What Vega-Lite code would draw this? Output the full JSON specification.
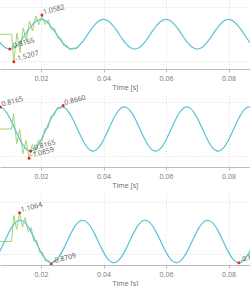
{
  "$schema": "https://vega.github.io/schema/vega-lite/v6.json",
  "padding": 0,
  "spacing": 3,
  "config": {
    "font": "Open Sans",
    "view": {"stroke": null},
    "axis": {"gridDash": [1, 2], "gridColor": "#dcdcdc", "gridWidth": 1},
    "axisX": {"domainColor": "#bbbbbb", "tickColor": "#bbbbbb", "tickSize": 3, "labelFontSize": 7, "labelColor": "#777777", "labelPadding": 2, "titleFontSize": 7, "titleFontWeight": "normal", "titleColor": "#666666", "titlePadding": 2}
  },
  "datasets": {
    "blue": [
      {"t": 0.006, "a": -0.2523, "b": 0.7986, "c": -0.5463},
      {"t": 0.007, "a": -0.4799, "b": 0.8120, "c": -0.3321},
      {"t": 0.008, "a": -0.6606, "b": 0.7459, "c": -0.0853},
      {"t": 0.009, "a": -0.7765, "b": 0.6068, "c": 0.1698},
      {"t": 0.010, "a": -0.8165, "b": 0.4083, "c": 0.4083},
      {"t": 0.011, "a": -0.7765, "b": 0.1698, "c": 0.6068},
      {"t": 0.012, "a": -0.6606, "b": -0.0853, "c": 0.7459},
      {"t": 0.013, "a": -0.4799, "b": -0.3321, "c": 0.8120},
      {"t": 0.014, "a": -0.2523, "b": -0.5463, "c": 0.7986},
      {"t": 0.015, "a": 0, "b": -0.7071, "c": 0.7071},
      {"t": 0.016, "a": 0.2523, "b": -0.7986, "c": 0.5463},
      {"t": 0.017, "a": 0.4799, "b": -0.8120, "c": 0.3321},
      {"t": 0.018, "a": 0.6606, "b": -0.7459, "c": 0.0853},
      {"t": 0.019, "a": 0.7765, "b": -0.6068, "c": -0.1698},
      {"t": 0.020, "a": 0.8165, "b": -0.4083, "c": -0.4083},
      {"t": 0.021, "a": 0.7765, "b": -0.1698, "c": -0.6068},
      {"t": 0.022, "a": 0.6606, "b": 0.0853, "c": -0.7459},
      {"t": 0.023, "a": 0.4799, "b": 0.3321, "c": -0.8120},
      {"t": 0.024, "a": 0.2523, "b": 0.5463, "c": -0.7986},
      {"t": 0.025, "a": 0, "b": 0.7071, "c": -0.7071},
      {"t": 0.026, "a": -0.2523, "b": 0.7986, "c": -0.5463},
      {"t": 0.027, "a": -0.4799, "b": 0.8120, "c": -0.3321},
      {"t": 0.028, "a": -0.6606, "b": 0.7459, "c": -0.0853},
      {"t": 0.029, "a": -0.7765, "b": 0.6068, "c": 0.1698},
      {"t": 0.030, "a": -0.8165, "b": 0.4083, "c": 0.4083},
      {"t": 0.031, "a": -0.7765, "b": 0.1698, "c": 0.6068},
      {"t": 0.032, "a": -0.6606, "b": -0.0853, "c": 0.7459},
      {"t": 0.033, "a": -0.4799, "b": -0.3321, "c": 0.8120},
      {"t": 0.034, "a": -0.2523, "b": -0.5463, "c": 0.7986},
      {"t": 0.035, "a": 0, "b": -0.7071, "c": 0.7071},
      {"t": 0.036, "a": 0.2523, "b": -0.7986, "c": 0.5463},
      {"t": 0.037, "a": 0.4799, "b": -0.8120, "c": 0.3321},
      {"t": 0.038, "a": 0.6606, "b": -0.7459, "c": 0.0853},
      {"t": 0.039, "a": 0.7765, "b": -0.6068, "c": -0.1698},
      {"t": 0.040, "a": 0.8165, "b": -0.4083, "c": -0.4083},
      {"t": 0.041, "a": 0.7765, "b": -0.1698, "c": -0.6068},
      {"t": 0.042, "a": 0.6606, "b": 0.0853, "c": -0.7459},
      {"t": 0.043, "a": 0.4799, "b": 0.3321, "c": -0.8120},
      {"t": 0.044, "a": 0.2523, "b": 0.5463, "c": -0.7986},
      {"t": 0.045, "a": 0, "b": 0.7071, "c": -0.7071},
      {"t": 0.046, "a": -0.2523, "b": 0.7986, "c": -0.5463},
      {"t": 0.047, "a": -0.4799, "b": 0.8120, "c": -0.3321},
      {"t": 0.048, "a": -0.6606, "b": 0.7459, "c": -0.0853},
      {"t": 0.049, "a": -0.7765, "b": 0.6068, "c": 0.1698},
      {"t": 0.050, "a": -0.8165, "b": 0.4083, "c": 0.4083},
      {"t": 0.051, "a": -0.7765, "b": 0.1698, "c": 0.6068},
      {"t": 0.052, "a": -0.6606, "b": -0.0853, "c": 0.7459},
      {"t": 0.053, "a": -0.4799, "b": -0.3321, "c": 0.8120},
      {"t": 0.054, "a": -0.2523, "b": -0.5463, "c": 0.7986},
      {"t": 0.055, "a": 0, "b": -0.7071, "c": 0.7071},
      {"t": 0.056, "a": 0.2523, "b": -0.7986, "c": 0.5463},
      {"t": 0.057, "a": 0.4799, "b": -0.8120, "c": 0.3321},
      {"t": 0.058, "a": 0.6606, "b": -0.7459, "c": 0.0853},
      {"t": 0.059, "a": 0.7765, "b": -0.6068, "c": -0.1698},
      {"t": 0.060, "a": 0.8165, "b": -0.4083, "c": -0.4083},
      {"t": 0.061, "a": 0.7765, "b": -0.1698, "c": -0.6068},
      {"t": 0.062, "a": 0.6606, "b": 0.0853, "c": -0.7459},
      {"t": 0.063, "a": 0.4799, "b": 0.3321, "c": -0.8120},
      {"t": 0.064, "a": 0.2523, "b": 0.5463, "c": -0.7986},
      {"t": 0.065, "a": 0, "b": 0.7071, "c": -0.7071},
      {"t": 0.066, "a": -0.2523, "b": 0.7986, "c": -0.5463},
      {"t": 0.067, "a": -0.4799, "b": 0.8120, "c": -0.3321},
      {"t": 0.068, "a": -0.6606, "b": 0.7459, "c": -0.0853},
      {"t": 0.069, "a": -0.7765, "b": 0.6068, "c": 0.1698},
      {"t": 0.070, "a": -0.8165, "b": 0.4083, "c": 0.4083},
      {"t": 0.071, "a": -0.7765, "b": 0.1698, "c": 0.6068},
      {"t": 0.072, "a": -0.6606, "b": -0.0853, "c": 0.7459},
      {"t": 0.073, "a": -0.4799, "b": -0.3321, "c": 0.8120},
      {"t": 0.074, "a": -0.2523, "b": -0.5463, "c": 0.7986},
      {"t": 0.075, "a": 0, "b": -0.7071, "c": 0.7071},
      {"t": 0.076, "a": 0.2523, "b": -0.7986, "c": 0.5463},
      {"t": 0.077, "a": 0.4799, "b": -0.8120, "c": 0.3321},
      {"t": 0.078, "a": 0.6606, "b": -0.7459, "c": 0.0853},
      {"t": 0.079, "a": 0.7765, "b": -0.6068, "c": -0.1698},
      {"t": 0.080, "a": 0.8165, "b": -0.4083, "c": -0.4083},
      {"t": 0.081, "a": 0.7765, "b": -0.1698, "c": -0.6068},
      {"t": 0.082, "a": 0.6606, "b": 0.0853, "c": -0.7459},
      {"t": 0.083, "a": 0.4799, "b": 0.3321, "c": -0.8120},
      {"t": 0.084, "a": 0.2523, "b": 0.5463, "c": -0.7986},
      {"t": 0.085, "a": 0, "b": 0.7071, "c": -0.7071},
      {"t": 0.086, "a": -0.2523, "b": 0.7986, "c": -0.5463},
      {"t": 0.087, "a": -0.4799, "b": 0.8120, "c": -0.3321},
      {"t": 0.088, "a": -0.6606, "b": 0.7459, "c": -0.0853}
    ],
    "ga": [
      {"t": 0.005, "v": 0}, {"t": 0.0106, "v": 0}, {"t": 0.0113, "v": -1.5207},
      {"t": 0.0123, "v": 0.066}, {"t": 0.0133, "v": -1.012}, {"t": 0.0143, "v": 0.347},
      {"t": 0.0153, "v": -0.385}, {"t": 0.0163, "v": 0.730}, {"t": 0.0173, "v": 0.183},
      {"t": 0.0183, "v": 1.018}, {"t": 0.0193, "v": 0.520}, {"t": 0.0203, "v": 1.0582},
      {"t": 0.0213, "v": 0.535}, {"t": 0.0223, "v": 0.801}, {"t": 0.0233, "v": 0.250},
      {"t": 0.0243, "v": 0.324}, {"t": 0.0253, "v": -0.206}, {"t": 0.0263, "v": -0.211},
      {"t": 0.0273, "v": -0.640}, {"t": 0.0283, "v": -0.615}, {"t": 0.0293, "v": -0.874},
      {"t": 0.0303, "v": -0.745}, {"t": 0.0313, "v": -0.809}, {"t": 0.0323, "v": -0.6125},
      {"t": 0.0333, "v": -0.4156}
    ],
    "gb": [
      {"t": 0.005, "v": 0}, {"t": 0.0106, "v": 0}, {"t": 0.0112, "v": 0.569},
      {"t": 0.0122, "v": -0.545}, {"t": 0.0132, "v": -0.007}, {"t": 0.0142, "v": -0.920},
      {"t": 0.0152, "v": -0.425}, {"t": 0.0162, "v": -1.0859}, {"t": 0.0172, "v": -0.569},
      {"t": 0.0182, "v": -0.925}, {"t": 0.0192, "v": -0.400}, {"t": 0.0202, "v": -0.508},
      {"t": 0.0212, "v": 0.004}, {"t": 0.0222, "v": 0.031}, {"t": 0.0232, "v": 0.467},
      {"t": 0.0242, "v": 0.507}, {"t": 0.0252, "v": 0.795}, {"t": 0.0262, "v": 0.753},
      {"t": 0.0271, "v": 0.866}, {"t": 0.0281, "v": 0.7351}, {"t": 0.0291, "v": 0.5893}
    ],
    "gc": [
      {"t": 0.005, "v": 0}, {"t": 0.0106, "v": 0}, {"t": 0.0113, "v": 0.996},
      {"t": 0.01222, "v": 0.467}, {"t": 0.01314, "v": 1.1064}, {"t": 0.01406, "v": 0.545},
      {"t": 0.01498, "v": 0.930}, {"t": 0.0159, "v": 0.375}, {"t": 0.01682, "v": 0.539},
      {"t": 0.01774, "v": 0.007}, {"t": 0.01866, "v": 0.041}, {"t": 0.01958, "v": -0.421},
      {"t": 0.0205, "v": -0.419}, {"t": 0.02142, "v": -0.757}, {"t": 0.02234, "v": -0.705},
      {"t": 0.02326, "v": -0.8709}, {"t": 0.02418, "v": -0.743}, {"t": 0.0251, "v": -0.729},
      {"t": 0.02602, "v": -0.5424}, {"t": 0.027, "v": -0.3321}
    ],
    "pts": [
      {"p": 1, "t": 0.0100, "v": -0.8165, "label": "-0.8165"},
      {"p": 1, "t": 0.0113, "v": -1.5207, "label": "-1.5207"},
      {"p": 1, "t": 0.0203, "v": 1.0582, "label": "1.0582"},
      {"p": 2, "t": 0.0070, "v": 0.8165, "label": "0.8165"},
      {"p": 2, "t": 0.01667, "v": -0.8165, "label": "-0.8165"},
      {"p": 2, "t": 0.0162, "v": -1.0859, "label": "-1.0859"},
      {"p": 2, "t": 0.0271, "v": 0.866, "label": "0.8660"},
      {"p": 3, "t": 0.01314, "v": 1.1064, "label": "1.1064"},
      {"p": 3, "t": 0.02326, "v": -0.8709, "label": "-0.8709"},
      {"p": 3, "t": 0.08333, "v": -0.8165, "label": "-0.8165"}
    ]
  },
  "vconcat": [
    {
      "width": 250, "height": 69,
      "encoding": {"x": {"field": "t", "type": "quantitative", "scale": {"domain": [0.00688, 0.08688], "nice": false, "zero": false}, "axis": {"values": [0.02, 0.04, 0.06, 0.08], "format": ".2f", "title": "Time [s]"}}},
      "layer": [
        {"data": {"name": "ga"}, "mark": {"type": "line", "clip": true, "color": "#a6d46c", "strokeWidth": 1},
         "encoding": {"y": {"field": "v", "type": "quantitative", "scale": {"domain": [-1.92, 1.89], "nice": false, "zero": false}, "axis": {"values": [-1.5, -0.75, 0, 0.75, 1.5], "labels": false, "ticks": false, "domain": false, "title": null}}}},
        {"data": {"name": "blue"}, "mark": {"type": "line", "clip": true, "color": "#5ec4d9", "strokeWidth": 1.25, "interpolate": "natural"},
         "encoding": {"y": {"field": "a", "type": "quantitative", "scale": {"domain": [-1.92, 1.89], "nice": false, "zero": false}}}},
        {"data": {"name": "pts"}, "transform": [{"filter": "datum.p == 1"}], "mark": {"type": "point", "filled": true, "color": "#e52d1f", "size": 9, "opacity": 1, "clip": true},
         "encoding": {"y": {"field": "v", "type": "quantitative", "scale": {"domain": [-1.92, 1.89], "nice": false, "zero": false}}}},
        {"data": {"name": "pts"}, "transform": [{"filter": "datum.p == 1"}], "mark": {"type": "text", "align": "left", "baseline": "alphabetic", "dx": 2, "angle": -15, "fontSize": 7, "color": "#555555", "clip": true},
         "encoding": {"y": {"field": "v", "type": "quantitative", "scale": {"domain": [-1.92, 1.89], "nice": false, "zero": false}}, "text": {"field": "label"}}}
      ]
    },
    {
      "width": 250, "height": 74,
      "encoding": {"x": {"field": "t", "type": "quantitative", "scale": {"domain": [0.00688, 0.08688], "nice": false, "zero": false}, "axis": {"values": [0.02, 0.04, 0.06, 0.08], "format": ".2f", "title": "Time [s]"}}},
      "layer": [
        {"data": {"name": "gb"}, "mark": {"type": "line", "clip": true, "color": "#a6d46c", "strokeWidth": 1},
         "encoding": {"y": {"field": "v", "type": "quantitative", "scale": {"domain": [-1.407, 1.333], "nice": false, "zero": false}, "axis": {"values": [-1, -0.5, 0, 0.5, 1], "labels": false, "ticks": false, "domain": false, "title": null}}}},
        {"data": {"name": "blue"}, "mark": {"type": "line", "clip": true, "color": "#5ec4d9", "strokeWidth": 1.25, "interpolate": "natural"},
         "encoding": {"y": {"field": "b", "type": "quantitative", "scale": {"domain": [-1.407, 1.333], "nice": false, "zero": false}}}},
        {"data": {"name": "pts"}, "transform": [{"filter": "datum.p == 2"}], "mark": {"type": "point", "filled": true, "color": "#e52d1f", "size": 9, "opacity": 1, "clip": true},
         "encoding": {"y": {"field": "v", "type": "quantitative", "scale": {"domain": [-1.407, 1.333], "nice": false, "zero": false}}}},
        {"data": {"name": "pts"}, "transform": [{"filter": "datum.p == 2"}], "mark": {"type": "text", "align": "left", "baseline": "alphabetic", "dx": 2, "angle": -15, "fontSize": 7, "color": "#555555", "clip": true},
         "encoding": {"y": {"field": "v", "type": "quantitative", "scale": {"domain": [-1.407, 1.333], "nice": false, "zero": false}}, "text": {"field": "label"}}}
      ]
    },
    {
      "width": 250, "height": 74,
      "encoding": {"x": {"field": "t", "type": "quantitative", "scale": {"domain": [0.00688, 0.08688], "nice": false, "zero": false}, "axis": {"values": [0.02, 0.04, 0.06, 0.08], "format": ".2f", "title": "Time [s]"}}},
      "layer": [
        {"data": {"name": "gc"}, "mark": {"type": "line", "clip": true, "color": "#a6d46c", "strokeWidth": 1},
         "encoding": {"y": {"field": "v", "type": "quantitative", "scale": {"domain": [-0.904, 1.942], "nice": false, "zero": false}, "axis": {"values": [-0.5, 0, 0.5, 1, 1.5], "labels": false, "ticks": false, "domain": false, "title": null}}}},
        {"data": {"name": "blue"}, "mark": {"type": "line", "clip": true, "color": "#5ec4d9", "strokeWidth": 1.25, "interpolate": "natural"},
         "encoding": {"y": {"field": "c", "type": "quantitative", "scale": {"domain": [-0.904, 1.942], "nice": false, "zero": false}}}},
        {"data": {"name": "pts"}, "transform": [{"filter": "datum.p == 3"}], "mark": {"type": "point", "filled": true, "color": "#e52d1f", "size": 9, "opacity": 1, "clip": true},
         "encoding": {"y": {"field": "v", "type": "quantitative", "scale": {"domain": [-0.904, 1.942], "nice": false, "zero": false}}}},
        {"data": {"name": "pts"}, "transform": [{"filter": "datum.p == 3"}], "mark": {"type": "text", "align": "left", "baseline": "alphabetic", "dx": 2, "angle": -15, "fontSize": 7, "color": "#555555", "clip": true},
         "encoding": {"y": {"field": "v", "type": "quantitative", "scale": {"domain": [-0.904, 1.942], "nice": false, "zero": false}}, "text": {"field": "label"}}}
      ]
    }
  ]
}
